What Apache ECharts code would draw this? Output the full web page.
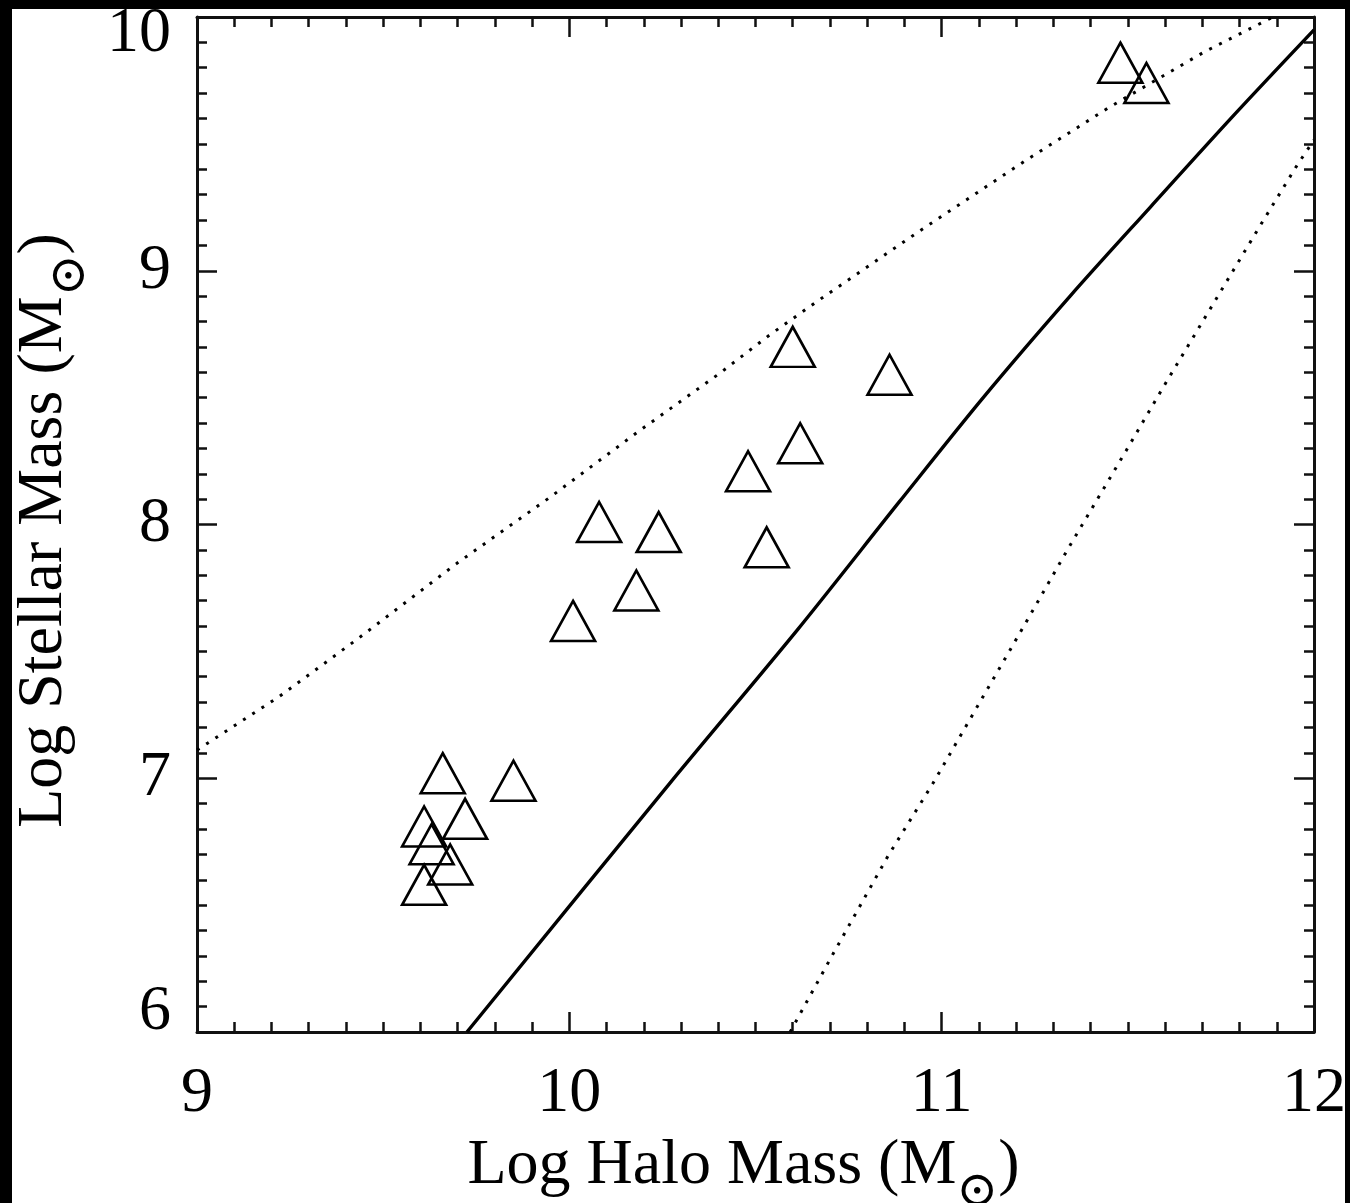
<!DOCTYPE html>
<html>
<head>
<meta charset="utf-8">
<script src="https://cdn.jsdelivr.net/npm/echarts@6/dist/echarts.min.js"></script>
<style>
  html, body { margin: 0; padding: 0; background: #000; }
  #chart { position: absolute; left: 12px; top: 9px; width: 1333px; height: 1194px; background: #fff; }
</style>
</head>
<body>
<div id="chart"></div>
<script>
// Galaxies: log halo mass vs log stellar mass
const haloMass = [11.48, 11.55, 10.60, 10.86, 10.62, 10.48, 10.53, 10.08, 10.24, 10.18, 10.01,
                  9.85, 9.66, 9.72, 9.61, 9.63, 9.68, 9.61];
const stellarMass = [9.82, 9.74, 8.70, 8.59, 8.32, 8.21, 7.91, 8.01, 7.97, 7.74, 7.62,
                     6.99, 7.02, 6.84, 6.81, 6.74, 6.66, 6.58];

// Mean relation (solid)
const meanX = [9.725, 10.268, 10.612, 10.886, 11.111, 11.345, 11.560, 11.783, 12.0];
const meanY = [6.0, 6.977, 7.584, 8.089, 8.499, 8.900, 9.250, 9.610, 9.949];

// Upper envelope (dotted)
const upperX = [9.0, 9.22, 9.434, 9.698, 9.945, 10.185, 10.404, 10.538, 10.671, 10.945, 11.227, 11.452, 11.706, 11.89];
const upperY = [7.111, 7.321, 7.552, 7.847, 8.104, 8.366, 8.596, 8.747, 8.885, 9.161, 9.436, 9.646, 9.863, 10.0];

// Lower envelope (dotted)
const lowerX = [10.593, 10.708, 10.856, 10.977, 11.224, 11.342, 11.495, 11.597, 11.853, 11.955, 12.0];
const lowerY = [6.0, 6.307, 6.694, 6.981, 7.608, 7.911, 8.290, 8.546, 9.172, 9.417, 9.515];

const xTicks = [9, 10, 11, 12];
const yTicks = [6, 7, 8, 9, 10];

const zip = (a, b) => a.map((v, i) => [v, b[i]]);
const serif = "'Liberation Serif', 'Times New Roman', 'DejaVu Serif', serif";
const ink = '#000';

function frameAxis(pos, isX, withLabels) {
  const ax = {
    type: 'value',
    position: pos,
    min: isX ? xTicks[0] : yTicks[0],
    max: isX ? xTicks[xTicks.length - 1] : yTicks[yTicks.length - 1],
    interval: 1,
    axisLine: { show: true, onZero: false, lineStyle: { color: '#111', width: 3 } },
    axisTick: { show: true, inside: true, length: 20, lineStyle: { color: '#111', width: 2.5 } },
    minorTick: { show: true, splitNumber: 10, length: 10, lineStyle: { color: '#111', width: 2.5 } },
    splitLine: { show: false },
    axisLabel: { show: false }
  };
  if (withLabels) {
    ax.axisLabel = {
      show: true,
      color: ink,
      fontFamily: serif,
      fontSize: 64,
      margin: isX ? 30 : 26,
      showMinLabel: true,
      showMaxLabel: true
    };
    if (!isX) {
      ax.axisLabel.formatter = v => v === 10 ? '{hi|10}' : (v === 6 ? '{lo|6}' : '{n|' + v + '}');
      ax.axisLabel.rich = {
        n:  { fontFamily: serif, fontSize: 64, color: ink },
        hi: { fontFamily: serif, fontSize: 64, color: ink, padding: [34, 0, 0, 0] },
        lo: { fontFamily: serif, fontSize: 64, color: ink, padding: [0, 0, 40, 0] }
      };
    }
  }
  return ax;
}

const titleRich = {
  n: { fontFamily: serif, fontSize: 64, color: ink, lineHeight: 84, verticalAlign: 'top' },
  s: { fontFamily: "'DejaVu Serif', serif", fontSize: 50, color: ink, lineHeight: 84, verticalAlign: 'bottom', padding: [0, 0, 0, 0] }
};

const xBottom = frameAxis('bottom', true, true);
xBottom.name = '{n|Log Halo Mass (M}{s|⊙}{n|)}';
xBottom.nameLocation = 'middle';
xBottom.nameGap = 102;
xBottom.nameTextStyle = { rich: titleRich, padding: [0, 24, 0, 0] };

const yLeft = frameAxis('left', false, true);
yLeft.name = '{n|Log Stellar Mass (M}{s|⊙}{n|)}';
yLeft.nameLocation = 'middle';
yLeft.nameGap = 101;
yLeft.nameTextStyle = { rich: titleRich, padding: [0, 12, 0, 0] };

const chart = echarts.init(document.getElementById('chart'), null, { renderer: 'canvas' });
chart.setOption({
  backgroundColor: '#fff',
  animation: false,
  grid: { left: 185, top: 8, width: 1117, height: 1015, containLabel: false, outerBoundsMode: 'none' },
  xAxis: [xBottom, frameAxis('top', true, false)],
  yAxis: [yLeft, frameAxis('right', false, false)],
  series: [
    {
      type: 'scatter',
      data: zip(haloMass, stellarMass),
      symbol: 'triangle',
      symbolSize: [44, 40],
      itemStyle: { color: 'rgba(0,0,0,0)', borderColor: ink, borderWidth: 2.6, opacity: 1 },
      z: 3
    },
    {
      type: 'line',
      data: zip(meanX, meanY),
      symbol: 'none',
      smooth: 0.3,
      lineStyle: { color: ink, width: 3.4 },
      z: 2
    },
    {
      type: 'line',
      data: zip(upperX, upperY),
      symbol: 'none',
      lineStyle: { color: ink, width: 3, type: [3, 8] },
      z: 2
    },
    {
      type: 'line',
      data: zip(lowerX, lowerY),
      symbol: 'none',
      lineStyle: { color: ink, width: 3, type: [3, 8] },
      z: 2
    }
  ]
});
</script>
</body>
</html>
